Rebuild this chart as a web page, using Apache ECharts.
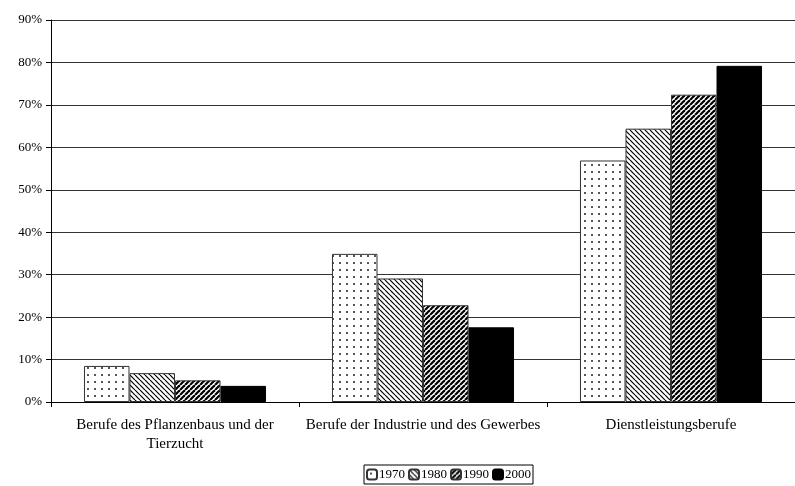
<!DOCTYPE html>
<html>
<head>
<meta charset="utf-8">
<script src="https://cdn.jsdelivr.net/npm/echarts@6/dist/echarts.min.js"></script>
<style>html,body{margin:0;padding:0;background:#fff;overflow:hidden;}#c{width:795px;height:486px;}</style>
</head>
<body>
<div id="c"></div>
<script>
var categories = ['Berufe des Pflanzenbaus und der\nTierzucht', 'Berufe der Industrie und des Gewerbes', 'Dienstleistungsberufe'];
var years = ['1970', '1980', '1990', '2000'];
var v1970 = [8.5, 34.9, 56.9];
var v1980 = [6.8, 29.1, 64.4];
var v1990 = [5.1, 22.8, 72.4];
var v2000 = [3.8, 17.6, 79.2];
var yTicks = [0, 10, 20, 30, 40, 50, 60, 70, 80, 90];

function tile(w, h, draw) {
  var c = document.createElement('canvas');
  c.width = w; c.height = h;
  var g = c.getContext('2d');
  g.fillStyle = '#fff'; g.fillRect(0, 0, w, h);
  draw(g, w, h);
  return {image: c, repeat: 'repeat'};
}
var pDots = tile(7, 7, function (g) {
  g.fillStyle = '#555';
  g.fillRect(3, 3, 2, 2);
});
var pBack = tile(5, 5, function (g, s) {
  g.strokeStyle = '#000'; g.lineWidth = 1.2;
  for (var k = -s; k <= s; k += s) { g.beginPath(); g.moveTo(k, 0); g.lineTo(k + s, s); g.stroke(); }
});
var pFwd = tile(5, 5, function (g, s) {
  g.strokeStyle = '#000'; g.lineWidth = 2.2;
  for (var k = -s; k <= s; k += s) { g.beginPath(); g.moveTo(k, s); g.lineTo(k + s, 0); g.stroke(); }
});
var colors = [pDots, pBack, pFwd, '#000'];
var values = [v1970, v1980, v1990, v2000];
var font = "'Liberation Serif','Times New Roman',serif";

var series = years.map(function (y, i) {
  return {
    name: y, type: 'bar', data: values[i],
    barGap: '0%', barCategoryGap: '26.6%',
    itemStyle: {color: colors[i], borderColor: i === 3 ? '#000' : '#333', borderWidth: 1},
    emphasis: {disabled: true}
  };
});

var chart = echarts.init(document.getElementById('c'), null, {renderer: 'canvas'});
chart.setOption({
  animation: false,
  backgroundColor: '#fff',
  grid: {left: 51, right: -8, top: 20, bottom: 84},
  legend: {
    bottom: 2, left: 364,
    data: years,
    itemWidth: 10, itemHeight: 10, itemGap: 3,
    borderColor: '#000', borderWidth: 1, padding: [3, 2],
    textStyle: {fontFamily: font, fontSize: 13, color: '#000', padding: [0, 0, 0, -3]},
    selectedMode: false
  },
  xAxis: {
    type: 'category', data: categories,
    axisLine: {lineStyle: {color: '#000', width: 1}},
    axisTick: {show: true, alignWithLabel: false, length: 5, lineStyle: {color: '#000'}},
    axisLabel: {fontFamily: font, fontSize: 15, color: '#000', margin: 14, lineHeight: 19, interval: 0}
  },
  yAxis: {
    type: 'value', min: yTicks[0], max: yTicks[yTicks.length - 1], interval: 10,
    axisLine: {show: true, lineStyle: {color: '#000', width: 1}},
    axisTick: {show: true, length: 5, inside: false, lineStyle: {color: '#000'}},
    axisLabel: {fontFamily: font, fontSize: 13, color: '#000', margin: 9, formatter: '{value}%'},
    splitLine: {show: true, lineStyle: {color: '#333', width: 1}}
  },
  series: series
});
</script>
</body>
</html>
